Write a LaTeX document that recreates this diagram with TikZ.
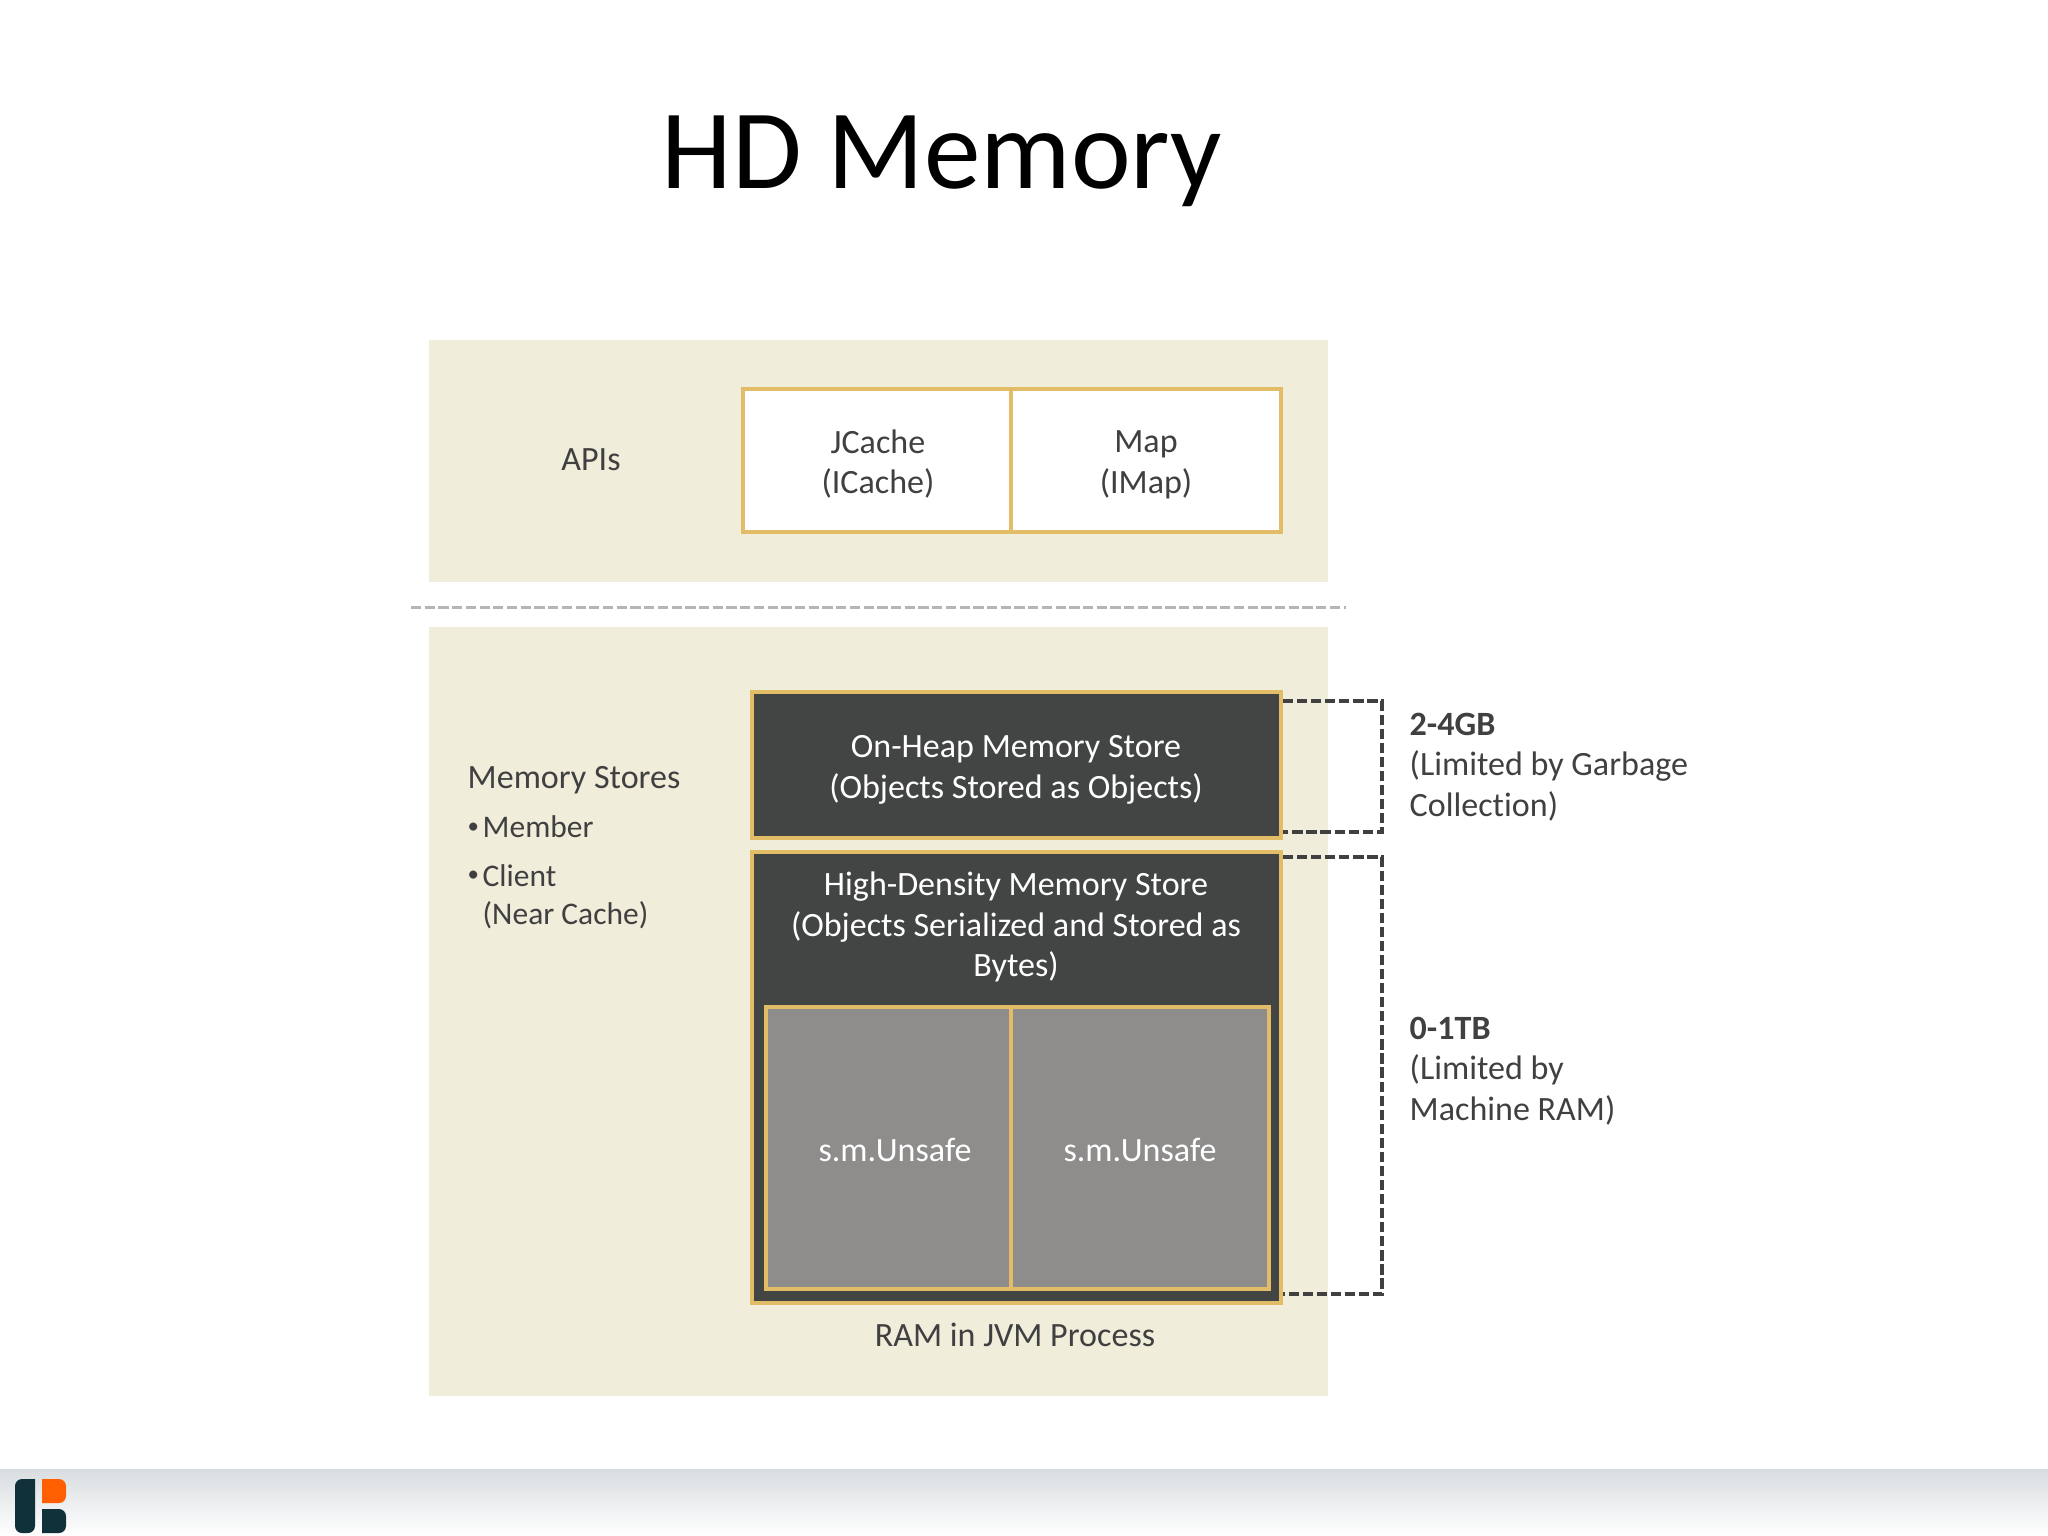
\documentclass[tikz,border=0pt]{standalone}
\usepackage{fontspec}
\setmainfont[Ligatures={NoCommon}]{Carlito}
\usepackage{tikz}
\definecolor{lcream}{HTML}{F0EDDB}
\definecolor{lgold}{HTML}{E3BC68}
\definecolor{ldark}{HTML}{434444}
\definecolor{lgrey}{HTML}{8E8D8C}
\definecolor{ltext}{HTML}{404040}
\definecolor{lrule}{HTML}{B5B5B5}
\definecolor{lnavy}{HTML}{10303A}
\definecolor{lorange}{HTML}{FF5F00}
\definecolor{lfoot}{HTML}{D9DDE0}
\pgfdeclarelayer{edgelayer}
\pgfdeclarelayer{nodelayer}
\pgfsetlayers{edgelayer,nodelayer,main}
\tikzstyle{none}=[inner sep=0pt]
\tikzstyle{panel}=[fill=lcream,draw=none]
\tikzstyle{apibox}=[fill=white,draw=lgold,line width=1.000]
\tikzstyle{darkbox}=[fill=ldark,draw=lgold,line width=1.000]
\tikzstyle{greybox}=[fill=lgrey,draw=lgold,line width=0.950]
\tikzstyle{divider}=[-,draw=lrule,line width=0.850,dash pattern=on 2.9pt off 1pt]
\tikzstyle{bracket}=[-,draw=ltext,line width=0.950,dash pattern=on 2.9pt off 1.1pt]
\tikzstyle{title}=[inner sep=0pt,text=black,font=\fontsize{32.2}{38}\selectfont]
\tikzstyle{plain}=[inner sep=0pt,text=ltext,align=center,font=\fontsize{9.68}{11.6}\selectfont]
\tikzstyle{side}=[style=plain,anchor=west,align=left]
\tikzstyle{item}=[style=side,font=\fontsize{8.95}{10.8}\selectfont]
\tikzstyle{dot}=[style=side,font=\fontsize{6.5}{7}\selectfont]
\tikzstyle{light}=[style=plain,text=white]
\begin{document}
\begin{tikzpicture}[x=0.01cm,y=-0.01cm]
	\useasboundingbox (0,0) rectangle (2048,1536);
	\begin{pgfonlayer}{nodelayer}
		\node [style=title] (0) at (942, 161) {HD Memory};
		\node [style=plain] (1) at (591, 460) {APIs};
		\node [style=plain] (2) at (878, 464) {JCache\\(ICache)};
		\node [style=plain] (3) at (1146, 465) {Map\\(IMap)};
		\node [style=side] (4) at (467, 780) {Memory Stores};
		\node [style=dot] (5) at (467, 828) {•};
		\node [style=item] (6) at (482, 827) {Member};
		\node [style=dot] (7) at (467, 876) {•};
		\node [style=item] (8) at (482, 897) {Client\\(Near Cache)};
		\node [style=light] (9) at (1016, 770) {On-Heap Memory Store\\(Objects Stored as Objects)};
		\node [style=light] (10) at (1016, 927) {High-Density Memory Store\\(Objects Serialized and Stored as\\Bytes)};
		\node [style=light] (11) at (895, 1150) {s.m.Unsafe};
		\node [style=light] (12) at (1140, 1150) {s.m.Unsafe};
		\node [style=plain] (13) at (1015, 1335) {RAM in JVM Process};
		\node [style=side] (14) at (1409, 767) {\textbf{2-4GB}\\(Limited by Garbage\\Collection)};
		\node [style=side] (15) at (1409, 1071) {\textbf{0-1TB}\\(Limited by\\Machine RAM)};
		\node [style=none] (16) at (429, 340) {};
		\node [style=none] (17) at (1328, 582) {};
		\node [style=none] (18) at (429, 627) {};
		\node [style=none] (19) at (1328, 1396) {};
		\node [style=none] (20) at (411, 607) {};
		\node [style=none] (21) at (1346, 607) {};
		\node [style=none] (22) at (743, 389) {};
		\node [style=none] (23) at (1011, 532) {};
		\node [style=none] (24) at (1011, 389) {};
		\node [style=none] (25) at (1281, 532) {};
		\node [style=none] (26) at (752, 692) {};
		\node [style=none] (27) at (1281, 838) {};
		\node [style=none] (28) at (752, 852) {};
		\node [style=none] (29) at (1281, 1303) {};
		\node [style=none] (30) at (766, 1007) {};
		\node [style=none] (31) at (1011, 1289) {};
		\node [style=none] (32) at (1011, 1007) {};
		\node [style=none] (33) at (1269, 1289) {};
		\node [style=none] (34) at (1283, 701) {};
		\node [style=none] (35) at (1382, 701) {};
		\node [style=none] (36) at (1382, 832) {};
		\node [style=none] (37) at (1283, 832) {};
		\node [style=none] (38) at (1283, 857) {};
		\node [style=none] (39) at (1382, 857) {};
		\node [style=none] (40) at (1382, 1294) {};
		\node [style=none] (41) at (1283, 1294) {};
	\end{pgfonlayer}
	\begin{pgfonlayer}{edgelayer}
		\shade [top color=lfoot, bottom color=white, draw=none] (0,1469) rectangle (2048,1536);
		\fill [lnavy, rounded corners=2pt] (35,1479) -- (15,1479) -- (15,1533) -- (35,1533) [sharp corners] -- cycle;
		\fill [lorange, rounded corners=2pt] (42,1479) -- (66,1479) -- (66,1503) [sharp corners] -- (42,1503) -- cycle;
		\fill [lnavy, rounded corners=2pt] (42,1509) -- (66,1509) -- (66,1533) [sharp corners] -- (42,1533) -- cycle;
		\draw [style=panel] (16.center) rectangle (17.center);
		\draw [style=panel] (18.center) rectangle (19.center);
		\draw [style=divider] (20.center) to (21.center);
		\draw [style=apibox] (22.center) rectangle (23.center);
		\draw [style=apibox] (24.center) rectangle (25.center);
		\draw [style=darkbox] (26.center) rectangle (27.center);
		\draw [style=darkbox] (28.center) rectangle (29.center);
		\draw [style=greybox] (30.center) rectangle (31.center);
		\draw [style=greybox] (32.center) rectangle (33.center);
		\draw [style=bracket] (34.center) to (35.center) to (36.center) to (37.center);
		\draw [style=bracket] (38.center) to (39.center) to (40.center) to (41.center);
	\end{pgfonlayer}
\end{tikzpicture}
\end{document}
